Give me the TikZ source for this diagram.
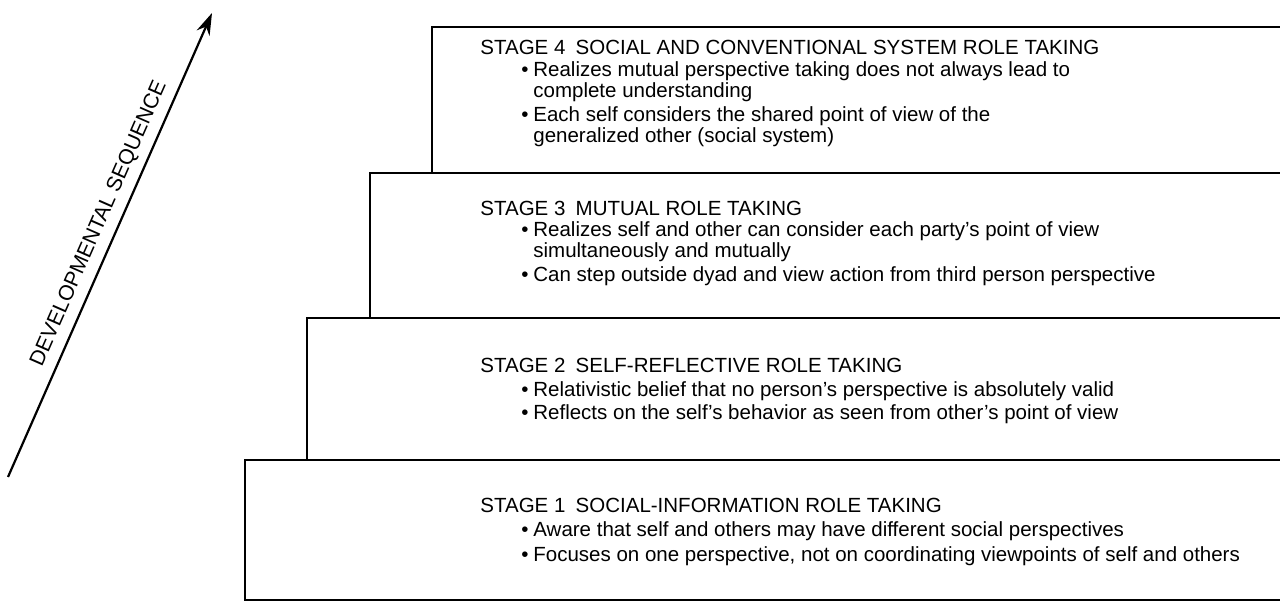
\documentclass[tikz,border=0pt]{standalone}
\usepackage{fontspec}
\setmainfont{Liberation Sans}
\usetikzlibrary{arrows.meta, positioning}
\tikzstyle{stage} = [draw, line width=1.1pt]
\tikzstyle{heading} = [anchor=base west, inner sep=0pt, font=\fontsize{10.25}{12}\selectfont]
\tikzstyle{point} = [anchor=base west, inner sep=0pt, font=\fontsize{10.25}{12}\selectfont]
\tikzstyle{arrow} = [line width=1.1pt, -{Stealth[length=11pt, width=7pt]}]
\newcommand{\bul}{\makebox[6pt][l]{\textbullet}}

\begin{document}
\begin{tikzpicture}[x=0.5pt, y=-0.5pt]
\useasboundingbox (0,0) rectangle (1280,603);
\clip (0,0) rectangle (1280,603);
% stage boxes, one step lower and wider each time
\foreach \lx/\ty/\by in {432/27/173, 370/173/318, 307/318/460, 245/460/600}{
     \draw[stage] (1290,\ty) -- (\lx,\ty) -- (\lx,\by) -- (1290,\by);
}
% developmental sequence arrow
\coordinate (seqstart) at (8,477);
\coordinate (seqend) at (212,13);
\draw[arrow] (seqstart) -- node[sloped, above=4pt, pos=0.53, inner sep=0pt, font=\fontsize{10.6}{12}\selectfont] (seqlabel) {DEVELOPMENTAL SEQUENCE} (seqend);

% stage 4
\node[heading] (s4title) at (480,55) {STAGE 4\enspace SOCIAL AND CONVENTIONAL SYSTEM ROLE TAKING};
\node[point] (s4a) at (521,77) {\bul Realizes mutual perspective taking does not always lead to};
\node[point] (s4a2) at (533,98) {complete understanding};
\node[point] (s4b) at (521,122) {\bul Each self considers the shared point of view of the};
\node[point] (s4b2) at (533,143) {generalized other (social system)};
% stage 3
\node[heading] (s3title) at (480,216) {STAGE 3\enspace MUTUAL ROLE TAKING};
\node[point] (s3a) at (521,237) {\bul Realizes self and other can consider each party's point of view};
\node[point] (s3a2) at (533,258) {simultaneously and mutually};
\node[point] (s3b) at (521,282) {\bul Can step outside dyad and view action from third person perspective};
% stage 2
\node[heading] (s2title) at (480,373) {STAGE 2\enspace SELF-REFLECTIVE ROLE TAKING};
\node[point] (s2a) at (521,397) {\bul Relativistic belief that no person's perspective is absolutely valid};
\node[point] (s2b) at (521,420) {\bul Reflects on the self's behavior as seen from other's point of view};
% stage 1
\node[heading] (s1title) at (480,513) {STAGE 1\enspace SOCIAL-INFORMATION ROLE TAKING};
\node[point] (s1a) at (521,537) {\bul Aware that self and others may have different social perspectives};
\node[point] (s1b) at (521,562) {\bul Focuses on one perspective, not on coordinating viewpoints of self and others};
\end{tikzpicture}
\end{document}
